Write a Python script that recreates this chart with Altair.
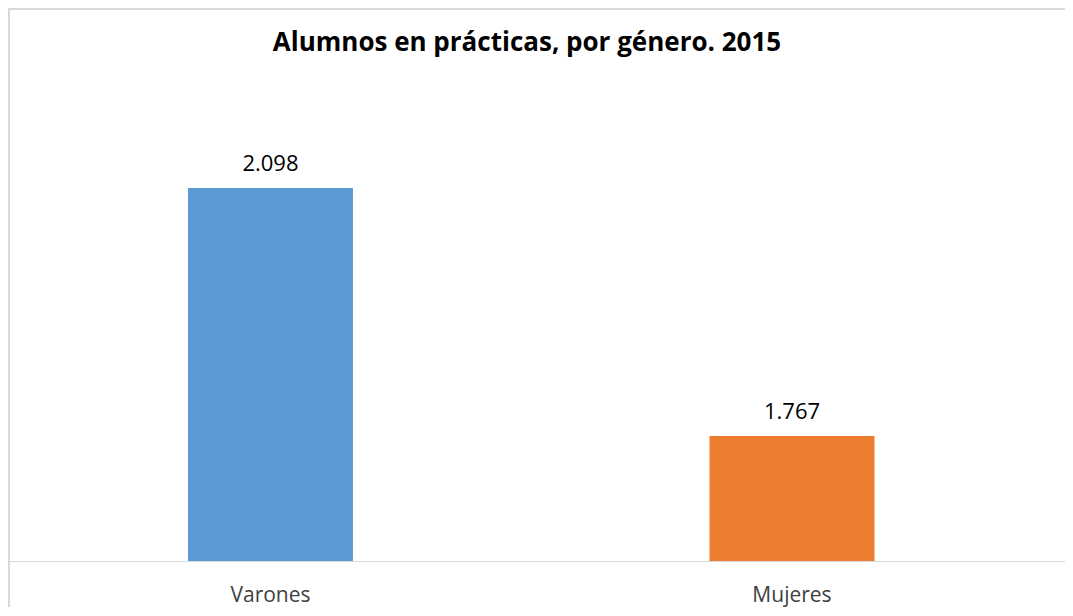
import altair as alt
import pandas as pd

categories = ["Varones", "Mujeres"]
values = [2098, 1767]
value_labels = ["2.098", "1.767"]
bar_colors = ["#5B9BD5", "#ED7D31"]
y_min, y_max = 1600, 2200
title_text = "Alumnos en prácticas, por género. 2015"

df = pd.DataFrame({
    "genero": categories,
    "alumnos": values,
    "etiqueta": value_labels,
    "color": bar_colors,
})
title_df = pd.DataFrame({"t": [title_text]})

W, H = 1057, 553
FONT = "Open Sans"

x = alt.X(
    "genero:N",
    sort=categories,
    scale=alt.Scale(paddingInner=0.6836, paddingOuter=0.3552, align=0.4858),
    axis=alt.Axis(
        title=None, labelAngle=0, ticks=False, domain=False,
        labelFont=FONT, labelFontSize=21, labelColor="#404040", labelPadding=23,
    ),
)
y = alt.Y(
    "alumnos:Q",
    scale=alt.Scale(domain=[y_min, y_max], range=[H, 103.6], zero=False),
    axis=None,
)

base = alt.Chart(df)

bars = base.mark_bar().encode(
    x=x,
    y=y,
    y2=alt.datum(y_min),
    color=alt.Color("color:N", scale=None),
)

text = base.mark_text(
    dy=-17, baseline="alphabetic", fontSize=22, font=FONT, color="#000000"
).encode(x=x, y=y, text="etiqueta:N")

baseline = alt.Chart(title_df).mark_rule(color="#D9D9D9", strokeWidth=1).encode(
    x=alt.value(2), x2=alt.value(W), y=alt.value(H + 0.5)
)
frame_left = alt.Chart(title_df).mark_rule(color="#D9D9D9", strokeWidth=2).encode(
    x=alt.value(1), y=alt.value(0), y2=alt.value(H + 80)
)
frame_top = alt.Chart(title_df).mark_rule(color="#D9D9D9", strokeWidth=2).encode(
    x=alt.value(0), x2=alt.value(W), y=alt.value(1)
)
title = alt.Chart(title_df).mark_text(
    font=FONT, fontSize=26, fontWeight="bold", color="#000000",
    baseline="alphabetic", align="center",
).encode(x=alt.value(519), y=alt.value(43), text="t:N")

chart = alt.layer(frame_left, frame_top, baseline, bars, text, title).properties(
    width=W,
    height=H,
    autosize=alt.AutoSizeParams(type="none"),
    padding={"left": 0, "top": 0, "right": 0, "bottom": 46},
).configure_view(strokeWidth=0)

chart.save("out.html", embed_options={"renderer": "svg", "actions": False})
